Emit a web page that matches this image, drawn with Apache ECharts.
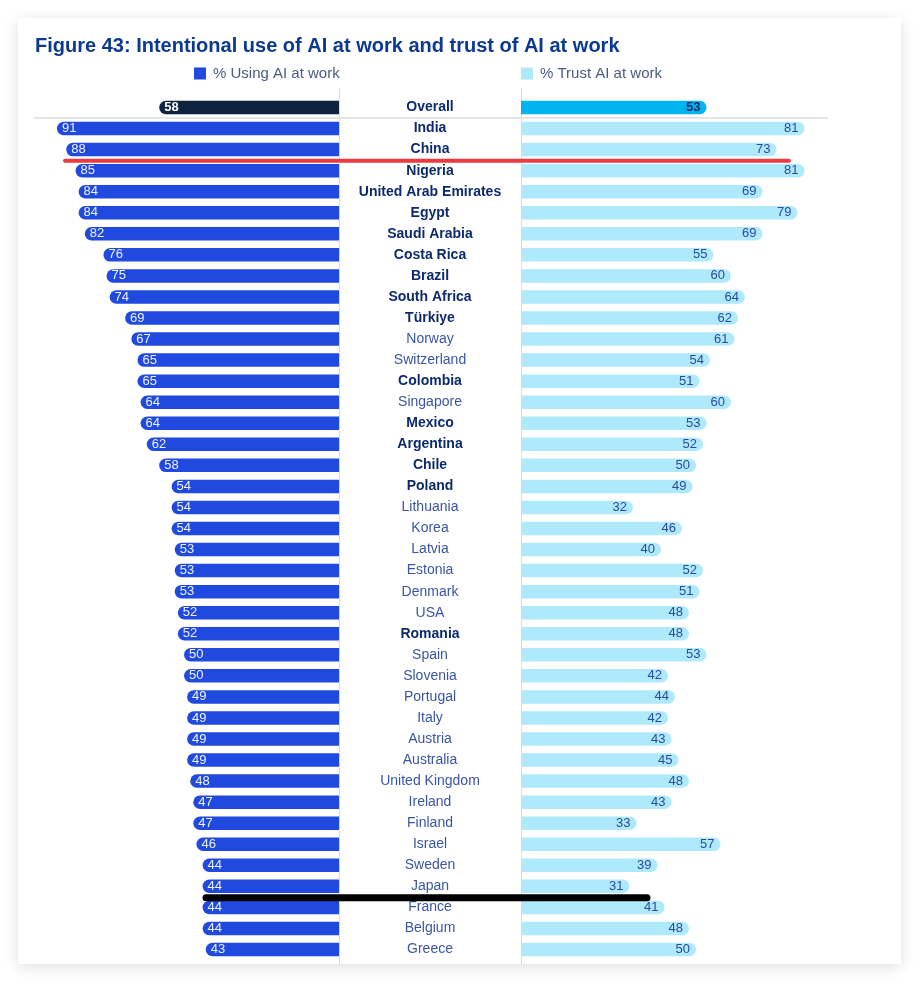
<!DOCTYPE html>
<html>
<head>
<meta charset="utf-8" />
<title>Figure 43</title>
<script src="https://cdn.jsdelivr.net/npm/echarts@6/dist/echarts.min.js"></script>
<style>
  html, body { margin: 0; padding: 0; background: #fff; }
  #card { position: absolute; left: 18px; top: 18px; width: 883px; height: 946px; background: #fff;
          box-shadow: 0 3px 14px rgba(0,0,0,0.13); }
  #main { position: absolute; left: 0; top: 0; width: 919px; height: 982px; }
</style>
</head>
<body>
<div id="card"></div>
<div id="main"></div>
<script>
// rows below the "Overall" row
var countries = ['India', 'China', 'Nigeria', 'United Arab Emirates', 'Egypt', 'Saudi Arabia',
  'Costa Rica', 'Brazil', 'South Africa', 'Türkiye', 'Norway', 'Switzerland', 'Colombia',
  'Singapore', 'Mexico', 'Argentina', 'Chile', 'Poland', 'Lithuania', 'Korea', 'Latvia',
  'Estonia', 'Denmark', 'USA', 'Romania', 'Spain', 'Slovenia', 'Portugal', 'Italy', 'Austria',
  'Australia', 'United Kingdom', 'Ireland', 'Finland', 'Israel', 'Sweden', 'Japan', 'France',
  'Belgium', 'Greece'];
var usingAI = [91, 88, 85, 84, 84, 82, 76, 75, 74, 69, 67, 65, 65, 64, 64, 62, 58, 54, 54, 54,
  53, 53, 53, 52, 52, 50, 50, 49, 49, 49, 49, 48, 47, 47, 46, 44, 44, 44, 44, 43];
var trustAI = [81, 73, 81, 69, 79, 69, 55, 60, 64, 62, 61, 54, 51, 60, 53, 52, 50, 49, 32, 46,
  40, 52, 51, 48, 48, 53, 42, 44, 42, 43, 45, 48, 43, 33, 57, 39, 31, 41, 48, 50];
var overallUsing = 58;
var overallTrust = 53;
// emerging economies shown in bold
var boldCountries = ['India', 'China', 'Nigeria', 'United Arab Emirates', 'Egypt', 'Saudi Arabia',
  'Costa Rica', 'Brazil', 'South Africa', 'Türkiye', 'Colombia', 'Mexico', 'Argentina', 'Chile',
  'Poland', 'Romania'];

var FONT = 'Liberation Sans, Arial, sans-serif';
var categories = ['Overall'].concat(countries);

var leftData = [{
  value: overallUsing,
  itemStyle: { color: '#0e2340' },
  label: { fontWeight: 'bold', color: '#fff' }
}].concat(usingAI);
var rightData = [{
  value: overallTrust,
  itemStyle: { color: '#00b4f0' },
  label: { fontWeight: 'bold', color: '#0c2a66' }
}].concat(trustAI);

var chart = echarts.init(document.getElementById('main'));

chart.setOption({
  animation: false,
  title: {
    text: 'Figure 43: Intentional use of AI at work and trust of AI at work',
    left: 30, top: 31,
    textStyle: { fontFamily: 'Liberation Sans Narrow, ' + FONT, fontSize: 20, fontWeight: 'bold', color: '#0b3a8f' }
  },
  legend: [
    { data: ['% Using AI at work'], left: 194, top: 66, padding: 0, icon: 'rect', itemWidth: 12, itemHeight: 12, itemGap: 0,
      textStyle: { fontFamily: FONT, fontSize: 15, color: '#4b5b82', padding: [0, 0, 0, 2] } },
    { data: ['% Trust AI at work'], left: 521, top: 66, padding: 0, icon: 'rect', itemWidth: 12, itemHeight: 12, itemGap: 0,
      textStyle: { fontFamily: FONT, fontSize: 15, color: '#4b5b82', padding: [0, 0, 0, 2] } }
  ],
  grid: [
    { left: 29, width: 310, top: 97, height: 863 },
    { left: 521, width: 350, top: 97, height: 863 }
  ],
  xAxis: [
    { gridIndex: 0, type: 'value', min: 0, max: 100, inverse: true, show: false },
    { gridIndex: 1, type: 'value', min: 0, max: 100, show: false }
  ],
  yAxis: [
    {
      gridIndex: 0, type: 'category', data: categories, inverse: true, position: 'right',
      axisLine: { show: false }, axisTick: { show: false },
      axisLabel: {
        margin: 91, align: 'center', interval: 0,
        formatter: function (v) {
          return (v === 'Overall' || boldCountries.indexOf(v) >= 0) ? '{b|' + v + '}' : '{r|' + v + '}';
        },
        rich: {
          b: { fontFamily: FONT, fontSize: 14, fontWeight: 'bold', color: '#0d2a6e' },
          r: { fontFamily: FONT, fontSize: 14, color: '#3a55a3' }
        }
      }
    },
    { gridIndex: 1, type: 'category', data: categories, inverse: true, show: false }
  ],
  series: [
    {
      name: '% Using AI at work', type: 'bar', xAxisIndex: 0, yAxisIndex: 0,
      data: leftData, barWidth: 13.5,
      itemStyle: { color: '#2049e0', borderRadius: [7, 0, 0, 7] },
      label: { show: true, position: 'insideLeft', distance: 5, fontFamily: FONT, fontSize: 13, color: '#eef2ff' }
    },
    {
      name: '% Trust AI at work', type: 'bar', xAxisIndex: 1, yAxisIndex: 1,
      data: rightData, barWidth: 13.5,
      itemStyle: { color: '#aee9fc', borderRadius: [0, 7, 7, 0] },
      label: { show: true, position: 'insideRight', distance: 6, fontFamily: FONT, fontSize: 13, color: '#2b4a9c' }
    }
  ]
});

// dividers and the two hand-drawn underline annotations
function rowY(name) { return chart.convertToPixel({ yAxisIndex: 0 }, name); }
var sepY = (rowY('Overall') + rowY('India')) / 2;
var redY = (rowY('China') + rowY('Nigeria')) / 2 + 0.5;
var blackY = (rowY('Japan') + rowY('France')) / 2 + 1;

chart.setOption({
  graphic: [
    { type: 'line', z: 0, shape: { x1: 339.5, y1: 88, x2: 339.5, y2: 964 }, style: { stroke: '#dadada', lineWidth: 1 } },
    { type: 'line', z: 0, shape: { x1: 521.5, y1: 88, x2: 521.5, y2: 964 }, style: { stroke: '#dadada', lineWidth: 1 } },
    { type: 'line', z: 0, shape: { x1: 34, y1: sepY, x2: 828, y2: sepY }, style: { stroke: '#dcdcdc', lineWidth: 1.5 } },
    { type: 'line', z: 100, shape: { x1: 65, y1: redY, x2: 789, y2: redY }, style: { stroke: '#ea3b42', lineWidth: 4, lineCap: 'round' } },
    { type: 'line', z: 100, shape: { x1: 206, y1: blackY, x2: 647, y2: blackY }, style: { stroke: '#000', lineWidth: 7, lineCap: 'round' } }
  ]
});
</script>
</body>
</html>
